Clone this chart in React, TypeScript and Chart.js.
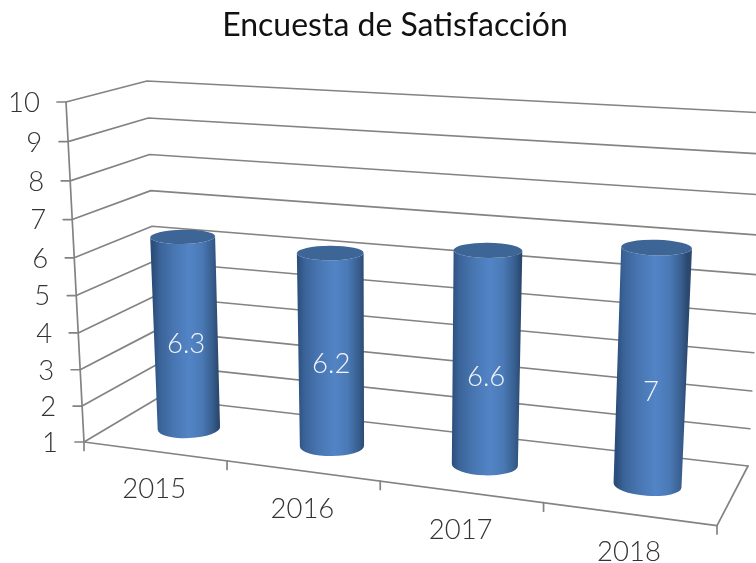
import React, { useEffect, useRef } from "react";
import { Chart, registerables } from "chart.js";

Chart.register(...registerables);

const categories = ["2015", "2016", "2017", "2018"];
const satisfaction = [6.3, 6.2, 6.6, 7];
const valueMin = 1;
const valueMax = 10;
const titleText = "Encuesta de Satisfacción";

const GRID = "#838383";
const LABEL = "#333333";
const FONT = "Lato";
const BAR_SHARE = 0.444;

type Pt = { x: number; y: number };
// Corners of the 3D box: f = front, b = back; l/r; 0 = floor, 1 = top
const box = {
  fl0: { x: 84, y: 442 },
  fr0: { x: 717, y: 525.6 },
  bl0: { x: 158, y: 398 },
  br0: { x: 748, y: 466 },
  fl1: { x: 66, y: 102 },
  fr1: { x: 736, y: 141 },
  bl1: { x: 147, y: 81 },
  br1: { x: 766, y: 113 },
};

const mix = (a: Pt, b: Pt, t: number): Pt => ({ x: a.x + (b.x - a.x) * t, y: a.y + (b.y - a.y) * t });
const warp = (u: number) => u * (0.872 + 0.128 * u);
const warpV = (v: number) => v * (0.944 + 0.056 * v);

function project(u: number, depth: number, v: number): Pt {
  const w = warp(u);
  const floor = mix(mix(box.fl0, box.fr0, w), mix(box.bl0, box.br0, w), depth);
  const top = mix(mix(box.fl1, box.fr1, w), mix(box.bl1, box.br1, w), depth);
  return mix(floor, top, warpV(v));
}

const rad = (d: number) => (d * Math.PI) / 180;

const box3d = {
  id: "box3d",
  beforeDatasetDraw(chart: any, args: any) {
    const { ctx } = chart;
    const xs = chart.scales.x;
    const ys = chart.scales.y;
    const toV = (px: number) => (ys.bottom - px) / (ys.bottom - ys.top);
    const toU = (px: number) => (px - xs.left) / (xs.right - xs.left);

    ctx.save();
    ctx.lineCap = "round";
    ctx.lineJoin = "round";
    ctx.strokeStyle = GRID;
    ctx.lineWidth = 1.7;

    const seg = (pts: Pt[]) => {
      ctx.beginPath();
      pts.forEach((p, i) => (i ? ctx.lineTo(p.x, p.y) : ctx.moveTo(p.x, p.y)));
      ctx.stroke();
    };

    // walls, value ticks and value labels
    ctx.font = `300 27.5px ${FONT}`;
    ctx.textAlign = "right";
    ctx.textBaseline = "middle";
    ys.ticks.forEach((t: any) => {
      const v = toV(ys.getPixelForValue(t.value));
      const fl = project(0, 0, v);
      const bl = project(0, 1, v);
      const br = project(1, 1, v);
      seg([{ x: fl.x - 9, y: fl.y }, fl, bl, br]);
      ctx.fillStyle = LABEL;
      ctx.fillText(String(t.value), fl.x - 26, fl.y + 1);
    });
    seg([project(0, 0, 0), project(0, 0, 1)]);
    seg([project(0, 0, 0), project(1, 0, 0), project(1, 1, 0)]);

    // category ticks
    const n = categories.length;
    for (let i = 0; i <= n; i++) {
      const p = project(i / n, 0, 0);
      seg([p, { x: p.x, y: p.y + 8.5 }]);
    }
    // category labels
    ctx.textAlign = "center";
    categories.forEach((c, i) => {
      const u = toU(xs.getPixelForValue(i));
      const p = project(u, 0, 0);
      ctx.fillStyle = LABEL;
      ctx.fillText(c, p.x, p.y + 38);
    });

    // cylinders
    const meta = chart.getDatasetMeta(args.index);
    meta.data.forEach((el: any, i: number) => {
      const u = toU(el.x);
      const vTop = toV(el.y);
      const vBase = toV(el.base);
      const b = project(u, 0.5, vBase);
      const t = project(u, 0.5, vTop);
      const unit = (project(u, 0.5, 0).y - project(u, 0.5, 1).y) / (valueMax - valueMin);
      const share = el.width / (xs.right - xs.left);
      const wBase = share * 15.2 * unit;
      const wTop = wBase * 1.04;
      const rb = wBase / 2;
      const rt = wTop / 2;
      const ryb = wBase * 0.155;
      const ryt = wTop * 0.11;
      const w = warp(u);
      const rotB = rad((w - 0.4) * 9);
      const rotT = rad((w - 0.4) * 3.5);

      const mx = (t.x + b.x) / 2;
      const grad = ctx.createLinearGradient(mx - rt, 0, mx + rt, 0);
      grad.addColorStop(0, "#2c4e7c");
      grad.addColorStop(0.1, "#3a6398");
      grad.addColorStop(0.3, "#4775b0");
      grad.addColorStop(0.55, "#5284c6");
      grad.addColorStop(0.75, "#4a79b5");
      grad.addColorStop(0.92, "#375d8d");
      grad.addColorStop(1, "#2b486e");

      ctx.beginPath();
      ctx.moveTo(t.x - rt * Math.cos(rotT), t.y - rt * Math.sin(rotT));
      ctx.lineTo(b.x - rb * Math.cos(rotB), b.y - rb * Math.sin(rotB));
      ctx.ellipse(b.x, b.y, rb, ryb, rotB, Math.PI, 0, true);
      ctx.lineTo(t.x + rt * Math.cos(rotT), t.y + rt * Math.sin(rotT));
      ctx.ellipse(t.x, t.y, rt, ryt, rotT, 0, Math.PI, false);
      ctx.closePath();
      ctx.fillStyle = grad;
      ctx.fill();

      ctx.beginPath();
      ctx.ellipse(t.x, t.y, rt, ryt, rotT, 0, Math.PI * 2);
      ctx.fillStyle = "#3d6596";
      ctx.fill();

      const lab = mix(b, t, 0.445 - 0.06 * w);
      ctx.fillStyle = "#f2f5fa";
      ctx.textAlign = "center";
      ctx.textBaseline = "middle";
      ctx.font = `300 27.5px ${FONT}`;
      ctx.fillText(String(satisfaction[i]), lab.x, lab.y);
    });

    ctx.restore();
    return false;
  },
};

export default function App() {
  const ref = useRef<HTMLCanvasElement>(null);
  useEffect(() => {
    document.body.style.margin = "0";
    const chart = new Chart(ref.current as HTMLCanvasElement, {
      type: "bar",
      data: {
        labels: categories,
        datasets: [
          {
            label: "Satisfacción",
            data: satisfaction,
            base: valueMin,
            backgroundColor: "#4f81bd",
            barPercentage: BAR_SHARE,
            categoryPercentage: 1,
          },
        ],
      },
      options: {
        responsive: false,
        animation: false,
        layout: { padding: { left: 34, right: 0, top: 0, bottom: 20 } },
        scales: {
          x: { display: false },
          y: { display: false, min: valueMin, max: valueMax, ticks: { stepSize: 1 } },
        },
        plugins: {
          legend: { display: false },
          tooltip: { enabled: false },
          title: {
            display: true,
            text: titleText,
            color: "#111111",
            font: { family: FONT, size: 32, weight: "400" },
            padding: { top: 6, bottom: 30 },
          },
        },
      },
      plugins: [box3d],
    } as any);
    return () => chart.destroy();
  }, []);
  return (
    <div style={{ width: 756, height: 563, background: "#fff" }}>
      <canvas ref={ref} width={756} height={563} style={{ display: "block" }} />
    </div>
  );
}
